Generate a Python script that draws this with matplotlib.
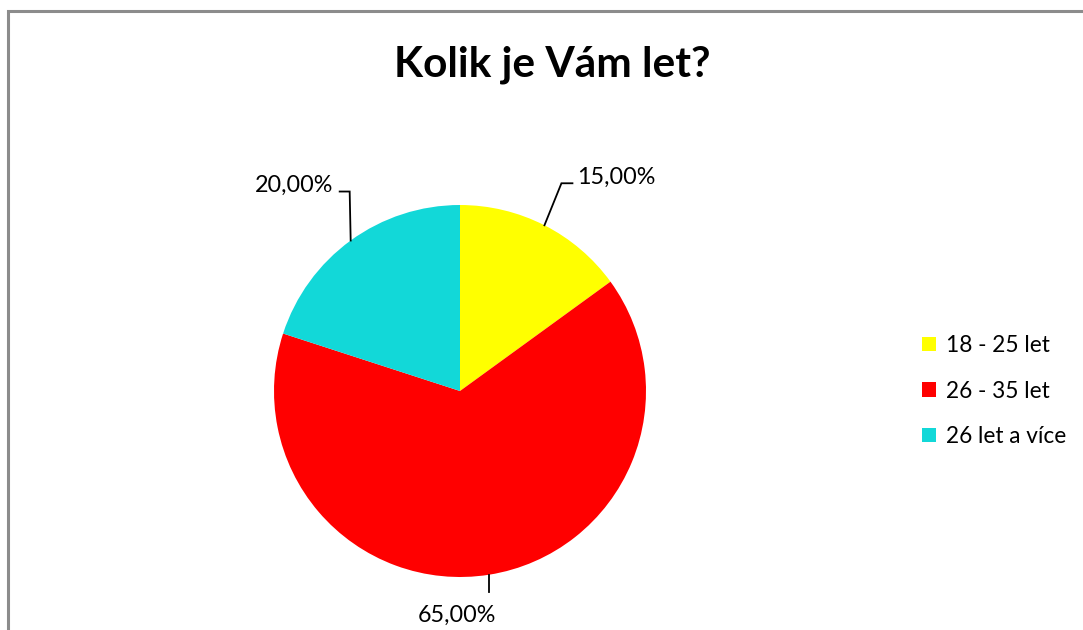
import numpy as np
import matplotlib
matplotlib.use("Agg")
import matplotlib.pyplot as plt
from matplotlib.patches import Rectangle

# data
categories = ["18 - 25 let", "26 - 35 let", "26 let a více"]
shares = [15.0, 65.0, 20.0]
colors = ["#FFFF00", "#FF0000", "#12D8D8"]
title = "Kolik je Vám let?"

plt.rcParams["font.family"] = ["Lato", "DejaVu Sans"]

W, H = 1083, 630
fig = plt.figure(figsize=(W / 100, H / 100), dpi=100)

# gray chart border (runs off the right/bottom of the picture)
fig.add_artist(Rectangle((8 / W, -0.1), 1.2, 1 - 11 / H + 0.1, transform=fig.transFigure,
                         fill=False, edgecolor="#8C8C8C", linewidth=2.2))

# pie axes: centre (460, 391) px, radius 186 px
cx, cy, r = 460, 391, 186
ax = fig.add_axes([(cx - r) / W, (H - cy - r) / H, 2 * r / W, 2 * r / H])
wedges, _ = ax.pie(shares, colors=colors, startangle=90, counterclock=False,
                   radius=1.0, wedgeprops=dict(linewidth=0))
ax.set_xlim(-1, 1)
ax.set_ylim(-1, 1)
ax.set_aspect("equal")
ax.axis("off")

# label placement per wedge: (elbow offset, end offset, text offset, ha, va) in data units
px = 1 / r
layouts = [
    dict(elbow=(17 * px, 42 * px), end=(28 * px, 42 * px), text=(33 * px, 48 * px), ha="left", va="center"),
    dict(elbow=(0, -17 * px), end=(0, -17 * px), text=(-32 * px, -41 * px), ha="center", va="center"),
    dict(elbow=(-1 * px, 49 * px), end=(-11 * px, 49 * px), text=(-17 * px, 55 * px), ha="right", va="center"),
]

for w, val, lay in zip(wedges, shares, layouts):
    ang = np.deg2rad((w.theta1 + w.theta2) / 2)
    ex, ey = np.cos(ang), np.sin(ang)
    bx, by = ex + lay["elbow"][0], ey + lay["elbow"][1]
    tx, ty = ex + lay["end"][0], ey + lay["end"][1]
    ax.plot([ex, bx, tx], [ey, by, ty], color="black", linewidth=1.3,
            clip_on=False, solid_joinstyle="miter")
    label = f"{val:.2f}%".replace(".", ",")
    ax.text(ex + lay["text"][0], ey + lay["text"][1], label, ha=lay["ha"], va=lay["va"],
            fontsize=16.8, color="black", clip_on=False)

fig.text(552 / W, 1 - 65 / H, title, ha="center", va="center",
         fontsize=30.5, fontweight="bold", color="black")

# legend
leg = fig.legend(wedges, categories, loc="center left", bbox_to_anchor=(911 / W, 1 - 391 / H),
                 frameon=False, fontsize=16.3, handlelength=0.6, handleheight=0.6,
                 handletextpad=0.45, labelspacing=1.08, borderpad=0)

fig.savefig("out.png", dpi=100, facecolor="white")
